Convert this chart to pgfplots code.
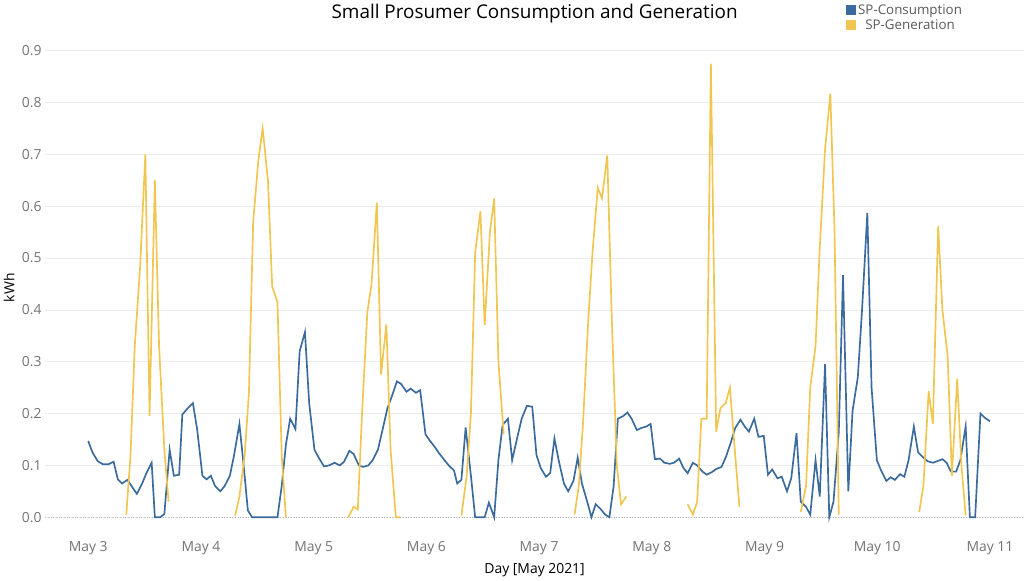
\documentclass[border=0pt]{standalone}
\usepackage{pgfplots}
\pgfplotsset{compat=1.18}
\usepackage{fontspec}
\setmainfont{Open Sans}
\definecolor{cons}{HTML}{3B6A9C}
\definecolor{gen}{HTML}{F0C550}
\begin{document}
\begin{tikzpicture}
\begin{axis}[scale only axis, width=880pt, height=450pt,
 xmin=2.62, xmax=11.30, ymin=-0.04, ymax=0.925,
 axis line style={draw=none}, tick style={draw=none},
 xtick={3,4,5,6,7,8,9,10,11},
 xticklabels={May 3,May 4,May 5,May 6,May 7,May 8,May 9,May 10,May 11},
 ytick={0,0.1,0.2,0.3,0.4,0.5,0.6,0.7,0.8,0.9},
 yticklabel style={/pgf/number format/fixed,/pgf/number format/fixed zerofill,/pgf/number format/precision=1},
 /pgf/number format/assume math mode=true,
 ticklabel style={font=\fontsize{12.5}{14}\selectfont, text=gray!90!black},
 ymajorgrids, grid style={gray!15},
 xlabel={Day [May 2021]}, ylabel={kWh},
 label style={font=\fontsize{12.5}{14}\selectfont},
 title={Small Prosumer Consumption and Generation},
 title style={font=\fontsize{17}{20}\selectfont, yshift=4pt},
 unbounded coords=jump,
 legend style={at={(0.815,1.075)}, anchor=north west, draw=none, fill=none, font=\fontsize{12}{14}\selectfont, text=gray!70!black, row sep=-1pt},
 legend image code/.code={\fill[#1] (0,-0.12cm) rectangle (0.25cm,0.14cm);},
 x filter/.expression={3+(x-118)/106.625}]
\draw[gray!60, dotted] (axis cs:2.62,0) -- (axis cs:11.30,0);
\addplot[cons, line width=1.5pt] table[row sep=\\] {
x y\\
118 0.147\\122 0.125\\127 0.108\\132 0.102\\137 0.102\\142 0.107\\146 0.073\\150 0.065\\155 0.072\\160 0.057\\164 0.045\\169 0.065\\173 0.085\\178 0.105\\181 0.0\\186 0.0\\190 0.006\\195 0.13\\199 0.08\\204 0.082\\207 0.198\\212 0.21\\217 0.22\\221 0.17\\226 0.08\\230 0.073\\234 0.08\\238 0.06\\243 0.05\\247 0.06\\252 0.08\\256 0.12\\261 0.18\\265 0.1\\269 0.013\\273 0\\278 0\\283 0\\288 0\\292 0\\297 0\\301 0.06\\305 0.14\\309 0.19\\314 0.17\\318 0.32\\323 0.357\\327 0.22\\332 0.13\\336 0.115\\341 0.098\\346 0.1\\351 0.105\\356 0.1\\360 0.107\\365 0.128\\369 0.122\\374 0.1\\378 0.097\\383 0.1\\387 0.11\\392 0.13\\396 0.165\\401 0.21\\405 0.232\\410 0.262\\414 0.257\\419 0.242\\423 0.248\\428 0.24\\432 0.245\\437 0.16\\441 0.148\\446 0.135\\450 0.123\\455 0.11\\459 0.1\\464 0.09\\467 0.065\\471 0.072\\475 0.173\\480 0.08\\484 0\\489 0\\493 0\\497 0.028\\502 0\\506 0.11\\510 0.178\\515 0.19\\519 0.11\\524 0.155\\528 0.19\\533 0.215\\538 0.213\\542 0.12\\546 0.095\\551 0.078\\555 0.085\\559 0.152\\563 0.11\\568 0.065\\572 0.05\\577 0.07\\581 0.115\\585 0.065\\590 0.03\\594 0\\598 0.025\\603 0.015\\607 0.005\\611 0\\615 0.06\\619 0.19\\624 0.195\\628 0.202\\632 0.19\\637 0.168\\641 0.172\\646 0.175\\650 0.18\\654 0.112\\659 0.113\\663 0.105\\668 0.103\\672 0.105\\677 0.113\\681 0.095\\685 0.085\\690 0.105\\694 0.1\\699 0.088\\703 0.082\\708 0.087\\712 0.093\\717 0.097\\721 0.115\\726 0.145\\730 0.172\\735 0.188\\739 0.175\\743 0.165\\748 0.19\\752 0.155\\757 0.157\\761 0.082\\765 0.092\\770 0.075\\774 0.078\\779 0.05\\783 0.075\\788 0.162\\792 0.03\\797 0.02\\801 0.005\\806 0.11\\810 0.04\\815 0.295\\819 0.0\\823 0.03\\828 0.165\\832 0.467\\837 0.05\\841 0.205\\846 0.27\\850 0.4\\855 0.587\\859 0.25\\864 0.11\\868 0.09\\873 0.07\\877 0.077\\881 0.072\\886 0.083\\890 0.078\\894 0.11\\899 0.175\\903 0.125\\908 0.115\\912 0.108\\917 0.105\\921 0.108\\926 0.112\\930 0.105\\934 0.088\\939 0.088\\943 0.11\\948 0.175\\952 0\\957 0\\962 0.2\\966 0.192\\971 0.185\\
};
\addlegendentry{SP-Consumption}
\addplot[gen, line width=1.5pt] table[row sep=\\] {
x y\\
154 0.005\\158 0.12\\162 0.33\\167 0.48\\172 0.70\\176 0.195\\181 0.65\\185 0.33\\190 0.13\\194 0.03\\196 nan\\
257 0.003\\261 0.04\\266 0.12\\270 0.24\\274 0.57\\279 0.69\\283 0.75\\288 0.65\\292 0.445\\297 0.415\\301 0.12\\305 0.0\\307 nan\\
364 0.0\\369 0.02\\373 0.015\\377 0.2\\382 0.395\\386 0.45\\391 0.607\\395 0.275\\400 0.372\\404 0.13\\409 0.0\\413 0.0\\415 nan\\
471 0.003\\476 0.08\\480 0.2\\484 0.51\\489 0.59\\493 0.37\\498 0.55\\502 0.615\\506 0.3\\511 0.16\\513 nan\\
578 0.005\\582 0.06\\586 0.18\\591 0.38\\595 0.51\\600 0.635\\604 0.615\\609 0.698\\613 0.4\\618 0.1\\622 0.025\\627 0.04\\629 nan\\
685 0.025\\690 0.005\\694 0.03\\698 0.19\\703 0.19\\707 0.875\\712 0.165\\716 0.21\\721 0.22\\725 0.25\\730 0.12\\734 0.02\\736 nan\\
792 0.01\\797 0.06\\801 0.25\\806 0.33\\810 0.52\\815 0.71\\820 0.817\\824 0.55\\828 0.005\\830 nan\\
904 0.01\\908 0.06\\913 0.243\\917 0.18\\922 0.562\\926 0.4\\931 0.31\\935 0.08\\940 0.267\\944 0.1\\948 0.003\\
};
\addlegendentry{SP-Generation}
\end{axis}
\end{tikzpicture}
\end{document}
